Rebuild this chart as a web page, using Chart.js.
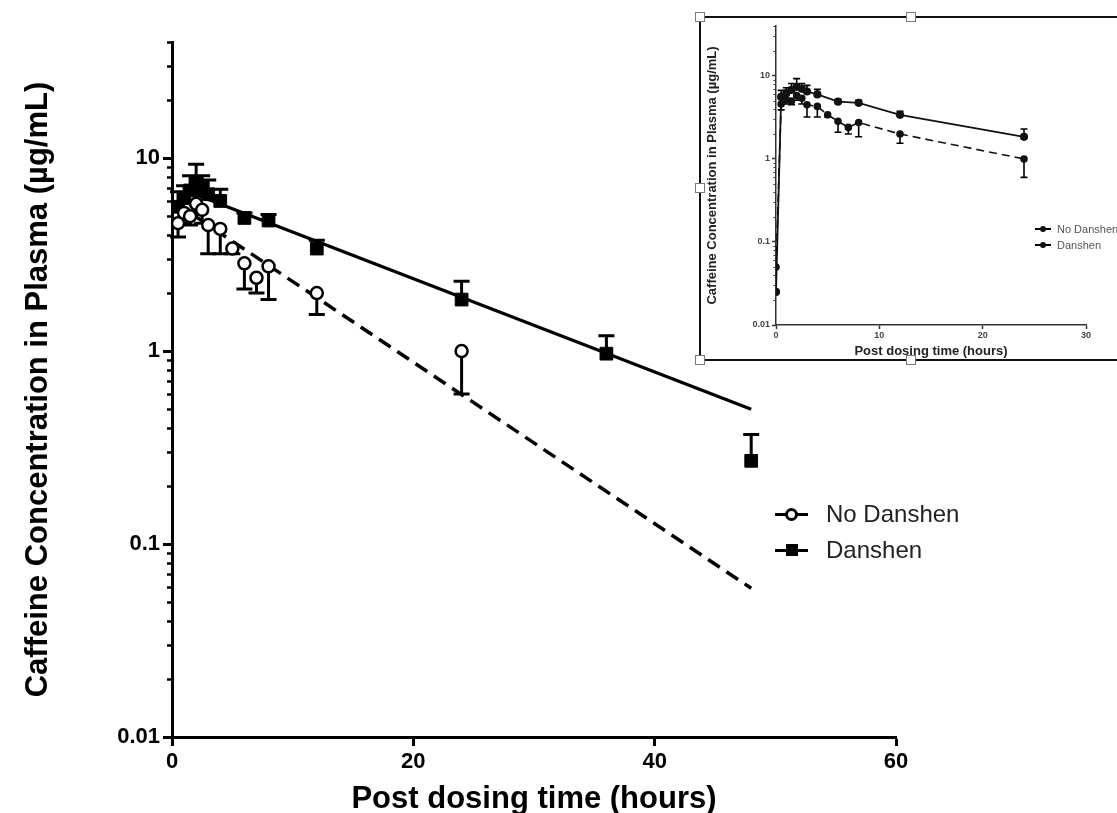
<!DOCTYPE html>
<html>
<head>
<meta charset="utf-8">
<script src="https://cdn.jsdelivr.net/npm/chart.js@4.4.0/dist/chart.umd.min.js"></script>
<style>
html,body{margin:0;padding:0;background:#fff;overflow:hidden;}
body{width:1117px;height:813px;position:relative;font-family:"Liberation Sans",Arial,sans-serif;}
#main{position:absolute;left:0;top:0;}
#inset{position:absolute;left:699px;top:16px;width:420px;height:341px;border:2px solid #111;background:#fff;}
#insetChart{position:absolute;left:0;top:0;}
.handle{position:absolute;width:10px;height:10px;background:#fff;border:1px solid #7a7a7a;box-sizing:border-box;}
.row{position:absolute;white-space:nowrap;}
.sym{position:absolute;background:#000;}
.mk{position:absolute;box-sizing:border-box;}
</style>
</head>
<body>
<canvas id="main" width="1117" height="813"></canvas>
<div id="inset"><canvas id="insetChart" width="420" height="341"></canvas></div>
<div id="legend"></div>
<script>
// sampling times (hours) and mean concentrations (ug/mL) with one-sided error
const hours        = [0, 0.5, 1, 1.5, 2, 2.5, 3, 4, 5, 6, 7, 8, 12, 24, 36, 48];
const noDanshen    = [0.05, 4.6, 5.2, 5.0, 5.8, 5.4, 4.5, 4.3, 3.4, 2.85, 2.4, 2.75, 2.0, 1.0, null, null];
const noDanshenErr = [0, 0.7, 0.6, 0.5, 0.7, 0.8, 1.3, 1.1, 0.2, 0.75, 0.4, 0.9, 0.45, 0.4, null, null];
const danshen      = [0.025, 5.6, 6.2, 6.8, 7.4, 7.0, 6.5, 6.0, null, 4.9, null, 4.75, 3.4, 1.85, 0.97, 0.27];
const danshenErr   = [0, 1.1, 1.0, 1.3, 1.9, 1.1, 1.2, 0.9, null, 0.3, null, 0.35, 0.35, 0.45, 0.23, 0.1];

// elimination fits (log-linear)
const fitHours     = [2, 48];
const noDanshenFit = [4.96, 0.059];
const danshenFit   = [6.47, 0.5];

const seriesNames = ["No Danshen", "Danshen"];
const xTicks      = [0, 20, 40, 60];
const insetXTicks = [0, 10, 20, 30];
const yTickLabels = [0.01, 0.1, 1, 10];
const yMax = 40;

const FONT = '"Liberation Sans", Arial, sans-serif';
const yTitle = "Caffeine Concentration in Plasma (µg/mL)";
const xTitle = "Post dosing time (hours)";

function pts(vals, errs, minT, maxT){
  return hours.map((h,i)=>({x:h, y:vals[i], e:errs[i]}))
    .filter(p=>p.y!=null && p.x>=minT && p.x<=maxT);
}
function line(xs, ys){ return xs.map((x,i)=>({x:x, y:ys[i]})); }

function logTicks(){
  const out = [];
  yTickLabels.forEach(d=>{
    for(let m=1;m<=9;m++){
      const v = m===1 ? d : +(m*d).toPrecision(3);
      if(v<=yMax) out.push({value:v});
    }
  });
  if(out[out.length-1].value!==yMax) out.push({value:yMax});
  return out;
}

// error bars drawn through the y scale
const errorBars = {
  id:'errorBars',
  beforeDatasetsDraw(chart, args, o){
    const ctx = chart.ctx, ys = chart.scales.y;
    chart.data.datasets.forEach((ds,i)=>{
      if(!ds.errSign) return;
      const meta = chart.getDatasetMeta(i);
      ctx.save();
      ctx.strokeStyle = '#000'; ctx.lineWidth = o.width;
      meta.data.forEach((el,j)=>{
        const p = ds.data[j];
        if(!p.e) return;
        const end = ys.getPixelForValue(p.y + ds.errSign*p.e);
        ctx.beginPath();
        ctx.moveTo(el.x, el.y); ctx.lineTo(el.x, end);
        ctx.moveTo(el.x-o.cap, end); ctx.lineTo(el.x+o.cap, end);
        ctx.stroke();
      });
      ctx.restore();
    });
  }
};

// short minor ticks on the log axis
const minorTicks = {
  id:'minorTicks',
  afterDraw(chart, args, o){
    const s = chart.scales.y, ctx = chart.ctx;
    ctx.save(); ctx.strokeStyle = o.color; ctx.lineWidth = o.width;
    s.ticks.forEach(t=>{
      if(yTickLabels.includes(t.value)) return;
      const py = Math.round(s.getPixelForValue(t.value))+0.5;
      ctx.beginPath(); ctx.moveTo(chart.chartArea.left, py); ctx.lineTo(chart.chartArea.left-o.length, py); ctx.stroke();
    });
    ctx.restore();
  }
};

function makeScales(cfg){
  return {
    x:{
      type:'linear', min:0, max:cfg.xTicks[cfg.xTicks.length-1],
      afterBuildTicks:s=>{ s.ticks = cfg.xTicks.map(v=>({value:v})); },
      afterFit:s=>{ s.height = cfg.xHeight; },
      border:{display:true, color:cfg.axisColor, width:cfg.axisW},
      grid:{display:true, drawOnChartArea:false, drawTicks:true, tickLength:cfg.tickLen, tickWidth:cfg.axisW, tickColor:cfg.axisColor},
      ticks:{color:cfg.tickColor, font:{family:FONT, size:cfg.tickSize, weight:'bold'}, padding:cfg.xPad, maxRotation:0, autoSkip:false},
      title:{display:true, text:xTitle, color:cfg.titleColor, font:{family:FONT, size:cfg.xTitleSize, weight:'bold', lineHeight:cfg.titleLH}, padding:{top:0,bottom:cfg.xTitlePad}}
    },
    y:{
      type:'logarithmic', min:yTickLabels[0], max:yMax,
      afterBuildTicks:s=>{ s.ticks = logTicks(); },
      afterFit:s=>{ s.width = cfg.yWidth; },
      border:{display:true, color:cfg.axisColor, width:cfg.axisW},
      grid:{display:true, drawOnChartArea:false, drawTicks:true, tickLength:cfg.tickLen, tickWidth:cfg.axisW,
        tickColor:c=> (c.tick && yTickLabels.includes(c.tick.value)) ? cfg.axisColor : 'rgba(0,0,0,0)'},
      ticks:{color:cfg.tickColor, font:{family:FONT, size:cfg.tickSize, weight:'bold'}, padding:cfg.yPad, autoSkip:false,
        callback:v=> yTickLabels.includes(v) ? String(v) : ''},
      title:{display:true, text:yTitle, color:cfg.titleColor, font:{family:FONT, size:cfg.yTitleSize, weight:'bold', lineHeight:cfg.titleLH}, padding:{top:cfg.yTitlePad,bottom:0}}
    }
  };
}

// ---------- main chart ----------
new Chart(document.getElementById('main'), {
  type:'line',
  data:{datasets:[
    {label:seriesNames[0], data:pts(noDanshen, noDanshenErr, 0.1, 48), errSign:-1, showLine:false,
      pointStyle:'circle', pointRadius:6, pointBorderWidth:2.5, pointBackgroundColor:'#fff', pointBorderColor:'#000'},
    {label:seriesNames[1], data:pts(danshen, danshenErr, 0.1, 48), errSign:1, showLine:false,
      pointStyle:'rect', pointRadius:9, pointBorderWidth:1, pointBackgroundColor:'#000', pointBorderColor:'#000'},
    {label:'fit1', data:line(fitHours, noDanshenFit), pointRadius:0, borderColor:'#000', borderWidth:3.5, borderDash:[14,8]},
    {label:'fit2', data:line(fitHours, danshenFit), pointRadius:0, borderColor:'#000', borderWidth:3.2}
  ]},
  options:{
    responsive:false, animation:false,
    layout:{padding:{left:21, top:42, right:221, bottom:0}},
    plugins:{legend:{display:false}, tooltip:{enabled:false},
      errorBars:{width:3, cap:8}, minorTicks:{color:'#000', width:2.5, length:5}},
    scales:makeScales({xTicks:xTicks, xHeight:76, yWidth:151, axisColor:'#000', axisW:3, tickLen:9,
      tickColor:'#000', tickSize:22, xPad:3, yPad:3, titleColor:'#000', xTitleSize:31, yTitleSize:31,
      titleLH:1.0, yTitlePad:2, xTitlePad:-2})
  },
  plugins:[errorBars, minorTicks]
});

// ---------- inset chart ----------
new Chart(document.getElementById('insetChart'), {
  type:'line',
  data:{datasets:[
    {label:seriesNames[0], data:pts(noDanshen, noDanshenErr, 0, 30), errSign:-1,
      borderColor:'#111', borderWidth:1.6, borderDash:[8,5], pointRadius:3, pointBackgroundColor:'#111', pointBorderColor:'#111'},
    {label:seriesNames[1], data:pts(danshen, danshenErr, 0, 30), errSign:1,
      borderColor:'#111', borderWidth:1.8, pointRadius:3.2, pointBackgroundColor:'#111', pointBorderColor:'#111'}
  ]},
  options:{
    responsive:false, animation:false,
    layout:{padding:{left:4, top:8, right:35, bottom:0}},
    plugins:{legend:{display:false}, tooltip:{enabled:false},
      errorBars:{width:1.6, cap:3.5}, minorTicks:{color:'#333', width:1, length:2.5}},
    scales:makeScales({xTicks:insetXTicks, xHeight:34, yWidth:71, axisColor:'#333', axisW:1.5, tickLen:4,
      tickColor:'#444', tickSize:9, xPad:1, yPad:2, titleColor:'#222', xTitleSize:13, yTitleSize:13,
      titleLH:1.2, yTitlePad:0, xTitlePad:0})
  },
  plugins:[errorBars, minorTicks]
});

// ---------- legends ----------
const legend = document.getElementById('legend');
function addRow(parent, name, i, o){
  const row = document.createElement('div');
  row.className = 'row';
  row.style.left = o.x+'px'; row.style.top = (o.y + i*o.dy - o.lh/2)+'px';
  row.style.height = o.lh+'px'; row.style.width = '300px';
  const bar = document.createElement('div');
  bar.className = 'sym';
  bar.style.left = '0px'; bar.style.width = o.lineW+'px';
  bar.style.top = (o.lh/2 - o.lineT/2)+'px'; bar.style.height = o.lineT+'px';
  row.appendChild(bar);
  const mk = document.createElement('div');
  mk.className = 'mk';
  const s = o.mk[i];
  mk.style.width = s.size+'px'; mk.style.height = s.size+'px';
  mk.style.left = (o.lineW/2 - s.size/2)+'px'; mk.style.top = (o.lh/2 - s.size/2)+'px';
  mk.style.background = s.fill; mk.style.border = s.border; mk.style.borderRadius = s.round ? '50%' : '0';
  row.appendChild(mk);
  const tx = document.createElement('span');
  tx.textContent = name;
  tx.style.position = 'absolute'; tx.style.left = o.textX+'px'; tx.style.top = '0px';
  tx.style.lineHeight = o.lh+'px'; tx.style.fontSize = o.fs+'px'; tx.style.color = o.color;
  row.appendChild(tx);
  parent.appendChild(row);
}
seriesNames.forEach((n,i)=>addRow(legend, n, i, {x:775, y:514, dy:36, lh:30, lineW:33, lineT:3, textX:51, fs:24, color:'#222',
  mk:[{size:13, fill:'#fff', border:'3px solid #000', round:true},{size:12, fill:'#000', border:'none', round:false}]}));
const insetDiv = document.getElementById('inset');
seriesNames.forEach((n,i)=>addRow(insetDiv, n, i, {x:334, y:211, dy:16, lh:14, lineW:16, lineT:1.5, textX:22, fs:11, color:'#555',
  mk:[{size:6, fill:'#111', border:'none', round:true},{size:6, fill:'#111', border:'none', round:true}]}));

// selection handles around the pasted inset
[[700,17],[911,17],[1122,17],[700,188],[1122,188],[700,360],[911,360],[1122,360]].forEach(([cx,cy])=>{
  const h = document.createElement('div');
  h.className = 'handle';
  h.style.left = (cx-5)+'px'; h.style.top = (cy-5)+'px';
  document.body.appendChild(h);
});
</script>
</body>
</html>
